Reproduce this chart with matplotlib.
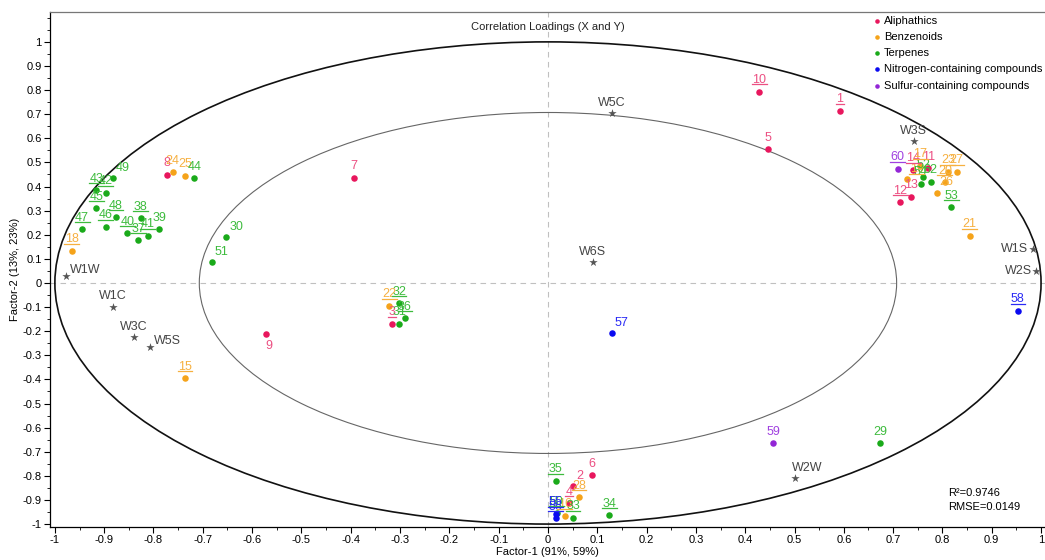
import matplotlib
matplotlib.use("Agg")
import matplotlib.pyplot as plt
from matplotlib.patches import Ellipse
from matplotlib.lines import Line2D
from matplotlib.ticker import MultipleLocator, FuncFormatter
import numpy as np

plt.rcParams['font.family'] = ['Liberation Sans', 'DejaVu Sans']

# compound loadings per group
aliph_ids = [1, 2, 3, 4, 5, 6, 7, 8, 9, 10, 11, 12, 13, 14]
aliph_x = [0.592, 0.051, -0.317, 0.043, 0.447, 0.090, -0.394, -0.772, -0.572, 0.428, 0.771, 0.714, 0.736, 0.741]
aliph_y = [0.715, -0.842, -0.170, -0.914, 0.555, -0.797, 0.436, 0.448, -0.212, 0.794, 0.476, 0.335, 0.358, 0.469]

benz_ids = [15, 16, 17, 18, 19, 20, 21, 22, 23, 24, 25, 26, 27, 28]
benz_x = [-0.736, 0.034, 0.755, -0.966, 0.728, 0.805, 0.855, -0.322, 0.811, -0.761, -0.736, 0.788, 0.829, 0.063]
benz_y = [-0.396, -0.965, 0.487, 0.134, 0.430, 0.418, 0.196, -0.095, 0.462, 0.459, 0.445, 0.375, 0.462, -0.889]

terp_ids = [29, 30, 31, 32, 33, 34, 35, 36, 37, 38, 39, 40, 41, 42, 43, 44,
            45, 46, 47, 48, 49, 50, 51, 52, 53, 54, 62]
terp_x = [0.673, -0.652, -0.302, -0.302, 0.051, 0.124, 0.016, -0.290, -0.831, -0.826, -0.788, -0.853, -0.812, -0.897, -0.916, -0.717,
          -0.916, -0.897, -0.945, -0.876, -0.883, 0.018, -0.682, 0.761, 0.818, 0.756, 0.776]
terp_y = [-0.665, 0.190, -0.170, -0.084, -0.974, -0.963, -0.820, -0.147, 0.178, 0.268, 0.223, 0.206, 0.195, 0.375, 0.385, 0.434,
          0.310, 0.234, 0.223, 0.272, 0.434, -0.956, 0.086, 0.441, 0.314, 0.411, 0.420]

nitro_ids = [55, 56, 57, 58]
nitro_x = [0.016, 0.016, 0.130, 0.953]
nitro_y = [-0.958, -0.976, -0.207, -0.116]

sulf_ids = [59, 60]
sulf_x = [0.457, 0.709]
sulf_y = [-0.665, 0.473]

# e-nose sensors
sensor_names = ['W1W', 'W1C', 'W3C', 'W5S', 'W5C', 'W6S', 'W3S', 'W1S', 'W2S', 'W2W']
sensor_x = [-0.978, -0.882, -0.840, -0.807, 0.130, 0.091, 0.742, 0.983, 0.990, 0.501]
sensor_y = [0.030, -0.098, -0.223, -0.267, 0.705, 0.087, 0.590, 0.140, 0.050, -0.810]

underlined = {1, 3, 4, 10, 12, 14, 15, 16, 17, 18, 19, 20, 21, 22, 23, 27, 28, 32, 33, 34, 35, 36,
              37, 38, 40, 41, 42, 43, 45, 46, 47, 48, 50, 53, 55, 56, 58, 60}

groups = [
    ("Aliphathics", aliph_ids, aliph_x, aliph_y, '#e8175d', '#ec4f82'),
    ("Benzenoids", benz_ids, benz_x, benz_y, '#f5a31a', '#f6b040'),
    ("Terpenes", terp_ids, terp_x, terp_y, '#1aaa1a', '#3dbb3d'),
    ("Nitrogen-containing compounds", nitro_ids, nitro_x, nitro_y, '#0a0af0', '#2a2af5'),
    ("Sulfur-containing compounds", sulf_ids, sulf_x, sulf_y, '#9326d6', '#a040e0'),
]

right_labels = {49, 30, 51, 57, 2, 19, 26}
below_labels = {9}

fig = plt.figure(figsize=(10.45, 5.6), dpi=100)
ax = fig.add_axes([0.0478, 0.059, 0.9522, 0.9196])
ax.set_xlim(-1.010, 1.008)
ax.set_ylim(-1.012, 1.124)

ax.axhline(0, color='#c0c0c0', lw=0.8, ls=(0, (5, 4)), zorder=1)
ax.axvline(0, color='#c0c0c0', lw=0.8, ls=(0, (5, 4)), zorder=1)
ax.add_patch(Ellipse((0, 0), 2, 2, fill=False, ec='#111111', lw=1.2, zorder=2))
r_in = np.sqrt(0.5)
ax.add_patch(Ellipse((0, 0), 2 * r_in, 2 * r_in, fill=False, ec='#666666', lw=0.8, zorder=2))

to_underline = []
for name, ids, xs, ys, col, tcol in groups:
    ax.scatter(xs, ys, s=22, color=col, zorder=4, label=name, linewidths=0)
    for i, x, y in zip(ids, xs, ys):
        if i in right_labels:
            t = ax.annotate(str(i), (x, y), xytext=(2, 3), textcoords='offset points',
                            ha='left', va='bottom', fontsize=9, color=tcol, zorder=5)
        elif i in below_labels:
            t = ax.annotate(str(i), (x, y), xytext=(2, -4), textcoords='offset points',
                            ha='center', va='top', fontsize=9, color=tcol, zorder=5)
        else:
            t = ax.annotate(str(i), (x, y), xytext=(0, 4), textcoords='offset points',
                            ha='center', va='bottom', fontsize=9, color=tcol, zorder=5)
        if i in underlined:
            to_underline.append((t, tcol))

ax.scatter(sensor_x, sensor_y, marker='*', s=40, color='#555555', zorder=4, linewidths=0)
sensor_pos = {'W1W': 'r', 'W5S': 'r', 'W2W': 'ar', 'W1S': 'l', 'W2S': 'l'}
for n, x, y in zip(sensor_names, sensor_x, sensor_y):
    p = sensor_pos.get(n, 'a')
    if p == 'r':
        ax.annotate(n, (x, y), xytext=(3, 0), textcoords='offset points',
                    ha='left', va='bottom', fontsize=9, color='#444444', zorder=5)
    elif p == 'ar':
        ax.annotate(n, (x, y), xytext=(-2, 3), textcoords='offset points',
                    ha='left', va='bottom', fontsize=9, color='#444444', zorder=5)
    elif p == 'l':
        ax.annotate(n, (x, y), xytext=(-3, 0), textcoords='offset points',
                    ha='right', va='center', fontsize=9, color='#444444', zorder=5)
    else:
        ax.annotate(n, (x, y), xytext=(0, 3), textcoords='offset points',
                    ha='center', va='bottom', fontsize=9, color='#444444', zorder=5)

ax.text(0.5005, 0.971, "Correlation Loadings (X and Y)", transform=ax.transAxes,
        ha='center', va='center', fontsize=8, color='#222222')
ax.text(0.9025, 0.066, "R²=0.9746", transform=ax.transAxes, ha='left', va='center', fontsize=8)
ax.text(0.9025, 0.039, "RMSE=0.0149", transform=ax.transAxes, ha='left', va='center', fontsize=8)

leg = ax.legend(loc='upper left', bbox_to_anchor=(0.822, 1.005), frameon=False, fontsize=8,
                handlelength=0.5, handletextpad=0.35, labelspacing=0.55, markerscale=0.7,
                borderaxespad=0.2)

fmt = FuncFormatter(lambda v, _: ('%.1f' % v).rstrip('0').rstrip('.') if abs(v) > 1e-9 else '0')
ticks = np.round(np.arange(-1, 1.001, 0.1), 2)
for axis in (ax.xaxis, ax.yaxis):
    axis.set_minor_locator(MultipleLocator(0.05))
    axis.set_major_formatter(fmt)
ax.set_xticks(ticks)
ax.set_yticks(ticks)
ax.tick_params(which='major', direction='out', length=4, width=0.8, labelsize=8, pad=2)
ax.tick_params(which='minor', direction='out', length=2, width=0.6)
ax.spines['right'].set_visible(False)
for s in ('left', 'bottom', 'top'):
    ax.spines[s].set_linewidth(0.9)
ax.spines['top'].set_color('#777777')

ax.set_xlabel("Factor-1 (91%, 59%)", fontsize=8, labelpad=1)
ax.set_ylabel("Factor-2 (13%, 23%)", fontsize=8, labelpad=2)

# underline the marked labels, using their rendered extents
fig.canvas.draw()
renderer = fig.canvas.get_renderer()
for t, c in to_underline:
    bb = t.get_window_extent(renderer)
    yline = bb.y0 + 1.5
    fig.add_artist(Line2D([bb.x0 - 0.5, bb.x1 + 0.5], [yline, yline], transform=None,
                          color=c, lw=0.9, zorder=6))

fig.savefig("out.png", dpi=100)
